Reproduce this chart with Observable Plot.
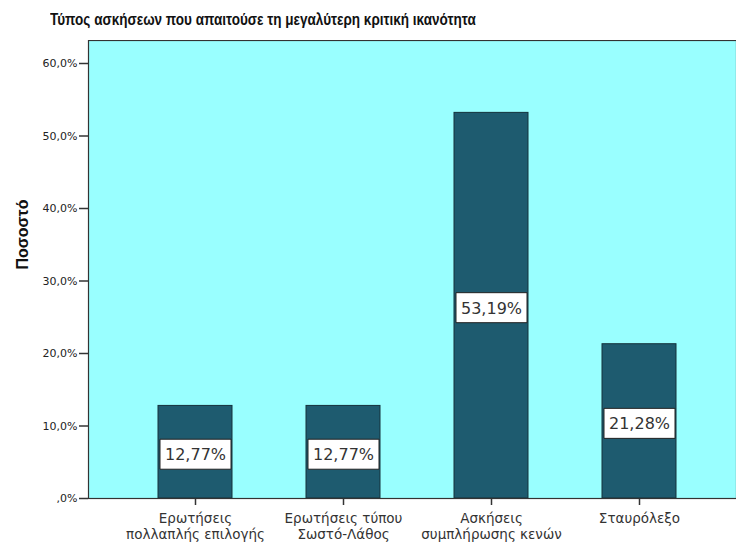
<!DOCTYPE html>
<html>
<head>
<meta charset="utf-8">
<script src="https://cdn.jsdelivr.net/npm/d3@7"></script>
<script src="https://cdn.jsdelivr.net/npm/@observablehq/plot@0.6"></script>
<style>
  body { margin: 0; background: #fff; font-family: "Liberation Sans", Arial, sans-serif; }
  #title { height: 40px; position: relative; }
  #title span { position: absolute; left: 50px; top: 11px; font-weight: bold; font-size: 16px; color: #111; white-space: nowrap; transform: scaleX(0.845); transform-origin: left center; }
  svg { display: block; }
</style>
</head>
<body>
<div id="title"><span>Τύπος ασκήσεων που απαιτούσε τη μεγαλύτερη κριτική ικανότητα</span></div>
<div id="chart"></div>
<script>
const categories = ["mc", "tf", "gap", "cross"];
const categoryLabels = [
  "Ερωτήσεις\nπολλαπλής επιλογής",
  "Ερωτήσεις τύπου\nΣωστό-Λάθος",
  "Ασκήσεις\nσυμπλήρωσης κενών",
  "Σταυρόλεξο"
];
const percents = [12.77, 12.77, 53.19, 21.28];
const yTicks = [0, 10, 20, 30, 40, 50, 60];
const yTitle = "Ποσοστό";

const data = categories.map((c, i) => ({ c, label: categoryLabels[i], v: percents[i] }));
const labelOf = new Map(data.map(d => [d.c, d.label]));

const fmtPct = v => v.toFixed(2).replace(".", ",") + "%";
const fmtTick = v => v === 0 ? ",0%" : v.toFixed(1).replace(".", ",") + "%";

const boxSymbol = { draw(ctx) { ctx.rect(-35.5, -15, 71, 30); } };
const thin = "DejaVu Sans, Verdana, sans-serif";

const chart = Plot.plot({
  width: 736,
  height: 507,
  marginTop: 0,
  marginLeft: 88,
  marginRight: 0,
  marginBottom: 49,
  style: { fontFamily: "Liberation Sans, Arial, sans-serif", background: "#fff" },
  x: { domain: categories, range: [120.5, 713.5], paddingInner: 0.5, paddingOuter: 0.25, align: 0.5 },
  y: { domain: [0, 60], range: [458, 23] },
  marks: [
    Plot.frame({ fill: "#99ffff", stroke: "none" }),
    Plot.barY(data, { x: "c", y: "v", fill: "#1e5b6f", stroke: "#14323c", strokeWidth: 1 }),
    Plot.dot(data, { x: "c", y: d => d.v / 2, symbol: boxSymbol, r: 1, fill: "white", stroke: "#222", strokeWidth: 1, strokeLinejoin: "miter", dy: 2 }),
    Plot.text(data, { x: "c", y: d => d.v / 2, text: d => fmtPct(d.v), fontSize: 16, fontFamily: thin, fill: "#333", dy: 3 }),
    Plot.frame({ stroke: "#333", strokeWidth: 1.2 }),
    Plot.axisY({ ticks: yTicks, tickFormat: fmtTick, tickSize: 9, tickPadding: 2, fontSize: 11, fontFamily: thin, color: "#222", stroke: "#333", strokeWidth: 1.5, label: null }),
    Plot.axisX({ tickFormat: c => labelOf.get(c), tickSize: 7, tickPadding: 6, fontSize: 13.5, fontFamily: thin, color: "#333", stroke: "#333", strokeWidth: 1.5, label: null, lineHeight: 1.2 }),
    Plot.text([yTitle], { frameAnchor: "left", text: d => d, rotate: -90, dx: -66, fontSize: 16, fontWeight: "bold", fill: "#111" })
  ]
});
document.getElementById("chart").appendChild(chart);
</script>
</body>
</html>
